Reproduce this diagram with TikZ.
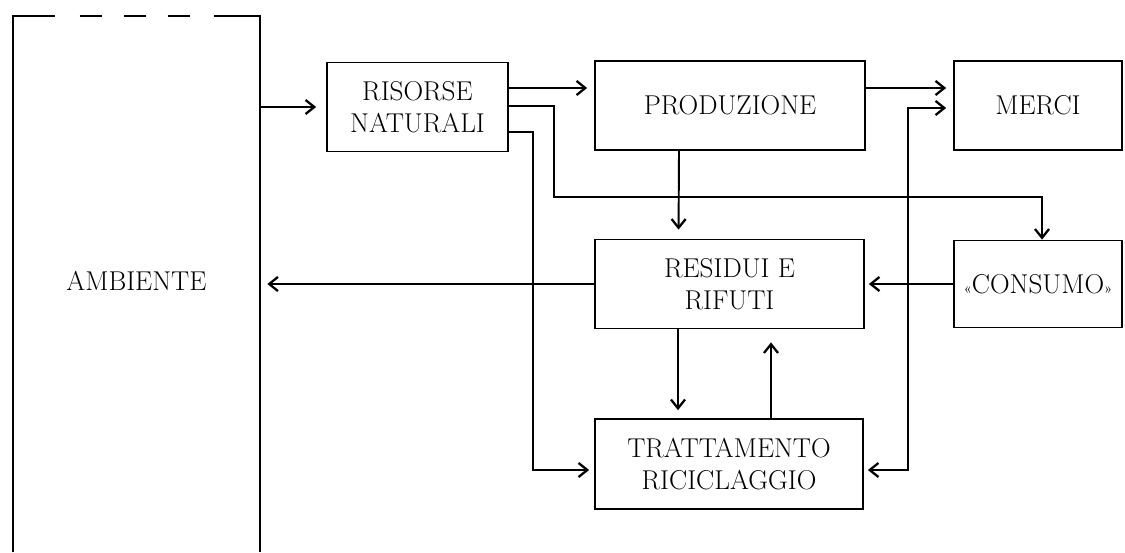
\documentclass[tikz,border=0pt]{standalone}
\usepackage{fontspec}
\usepackage{tikz}
\usetikzlibrary{positioning,calc,arrows.meta}

\begin{document}
\begin{tikzpicture}[x=0.02cm,y=-0.02cm,
		blocco/.style={draw, line width=1pt, align=center, inner sep=0pt,
			font=\fontsize{15.5}{18}\selectfont},
		freccia/.style={line width=1.1pt,
			-{Straight Barb[length=5pt,width=8pt,line width=1.3pt]}},
		doppia/.style={line width=1.1pt,
			{Straight Barb[length=5pt,width=8pt,line width=1.3pt]}-{Straight Barb[length=5pt,width=8pt,line width=1.3pt]}}]
	\useasboundingbox (0,0) rectangle (1125,552);
	% ambiente: riquadro aperto in basso, tratteggiato in alto
	\node[align=center, inner sep=0pt, minimum width=4.94cm, minimum height=10.72cm,
		font=\fontsize{15.5}{18}\selectfont] (amb) at (136.5,284) {\raisebox{0.14cm}{AMBIENTE}};
	\draw[line width=1.1pt] (amb.south west) -- (amb.north west) -- ($(amb.north west)+(42,0)$);
	\draw[line width=1.1pt] ($(amb.north east)+(-46,0)$) -- (amb.north east) -- (amb.south east);
	\foreach \x in {67,111,155}
		\draw[line width=1.1pt] ($(amb.north west)+(\x,0)$) -- ++(22,0);
	% blocchi
	\node[blocco, minimum width=3.62cm, minimum height=1.78cm] (ris) at (417.5,107) {RISORSE\\NATURALI};
	\node[blocco, minimum width=5.4cm, minimum height=1.78cm] (prod) at (730,105.5) {PRODUZIONE};
	\node[blocco, minimum width=3.36cm, minimum height=1.78cm] (merci) at (1038,105.5) {MERCI};
	\node[blocco, minimum width=5.38cm, minimum height=1.78cm] (res) at (729.5,284) {RESIDUI E\\RIFUTI};
	\node[blocco, minimum width=3.36cm, minimum height=1.74cm] (cons) at (1038,284)
		{{\fontsize{8}{8}\selectfont «}CONSUMO{\fontsize{8}{8}\selectfont »}};
	\node[blocco, minimum width=5.36cm, minimum height=1.8cm] (tratt) at (729,464) {TRATTAMENTO\\RICICLAGGIO};
	% frecce
	\draw[freccia, shorten >=0.2cm] (amb.east |- ris.west) -- (ris.west);
	\draw[freccia, shorten >=0.14cm] ($(ris.east)+(0,-19)$) -- ($(prod.west)+(0,-17.5)$);
	\draw[freccia, line width=1.3pt] ($(ris.east)+(0,-1)$) -| ++(45,91) -| ($(cons.north)+(4,0)$);
	\draw[freccia, shorten >=0.1cm] ($(ris.east)+(0,25)$) -- ++(24,0) |- ($(tratt.west)+(0,6)$);
	\draw[freccia, shorten >=0.18cm] ($(prod.south)+(-51,0)$) -- ($(res.north)+(-51,0)$);
	\draw[freccia, line width=1.6pt, shorten >=0.14cm] ($(prod.east)+(0,-17.5)$) -- ($(merci.west)+(0,-17.5)$);
	\draw[doppia, shorten <=0.08cm, shorten >=0.14cm] ($(tratt.east)+(0,6)$) -- ++(44,0) |- ($(merci.west)+(0,2.5)$);
	\draw[freccia, shorten >=0.08cm] (cons.west) -- (res.east);
	\draw[freccia, shorten >=0.14cm] (res.west) -- (amb.east |- res.west);
	\draw[freccia, shorten >=0.16cm] ($(res.south)+(-51.5,0)$) -- ($(tratt.north)+(-51,0)$);
	\draw[freccia, shorten >=0.26cm] ($(tratt.north)+(42,0)$) -- ($(res.south)+(41.5,0)$);
\end{tikzpicture}
\end{document}
